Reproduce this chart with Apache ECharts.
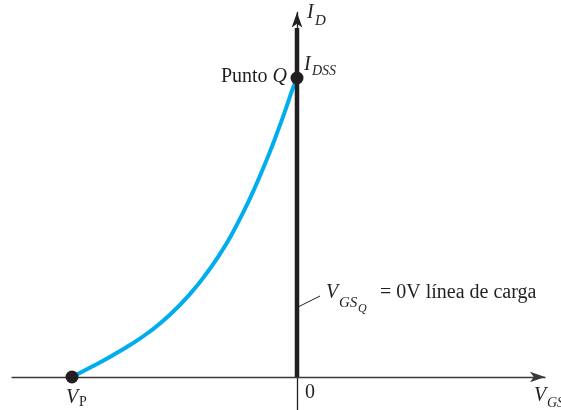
<!DOCTYPE html>
<html><head><meta charset="utf-8">
<script src="https://cdn.jsdelivr.net/npm/echarts@6/dist/echarts.min.js"></script>
<style>html,body{margin:0;padding:0;background:#fff}#c{width:561px;height:410px}</style>
</head><body><div id="c"></div>
<script>
// Transfer curve (VGS in volts, ID in mA; VP = -4 V, IDSS = 10 mA)
const curveVgs = [-4, -3.65, -3.32, -2.97, -2.61, -2.26, -1.90, -1.61, -1.34, -1.18, -0.96, -0.75, -0.54, -0.36, -0.21, -0.09, 0];
const curveId  = [0, 0.34, 0.68, 1.07, 1.53, 2.08, 2.78, 3.46, 4.20, 4.70, 5.49, 6.33, 7.26, 8.13, 8.91, 9.57, 10];
// Load line VGSQ = 0 V
const loadVgs = [0, 0];
const loadId  = [0, 11.67];
// Marked points: VP and Q point (IDSS)
const pointVgs = [-4, 0];
const pointId  = [0, 10];

const ink = '#231f20';
const serif = '"Liberation Serif", "Times New Roman", serif';
const zip = (a, b) => a.map((v, i) => [v, b[i]]);

function txt(x, y, text, size, italic, align) {
  return {
    type: 'text', x: x, y: y, z: 100,
    style: {
      text: text, fill: ink, align: align || 'left', verticalAlign: 'middle',
      font: (italic ? 'italic ' : '') + size + 'px ' + serif
    }
  };
}

const chart = echarts.init(document.getElementById('c'), null, {renderer: 'canvas'});
chart.setOption({
  animation: false,
  backgroundColor: '#fff',
  grid: {left: 12, right: 16, top: 12.5, bottom: 0, containLabel: false, outerBoundsMode: 'none'},
  xAxis: {
    type: 'value', min: -5.0667, max: 4.4089,
    axisLine: {onZero: true, symbol: ['none', 'arrow'], symbolSize: [8, 15],
      lineStyle: {color: '#3a3a3a', width: 1.3}},
    axisTick: {show: false}, axisLabel: {show: false}, splitLine: {show: false}
  },
  yAxis: {
    type: 'value', min: -1.1037, max: 12.19,
    axisLine: {onZero: true, symbol: ['none', 'arrow'], symbolSize: [8, 15],
      lineStyle: {color: ink, width: 1.3}},
    axisTick: {show: false}, axisLabel: {show: false}, splitLine: {show: false}
  },
  series: [
    {
      type: 'line', data: zip(curveVgs, curveId), smooth: 0.5, symbol: 'none',
      lineStyle: {color: '#00aeef', width: 4}, z: 2
    },
    {
      type: 'line', data: zip(loadVgs, loadId), symbol: 'none',
      lineStyle: {color: ink, width: 4.5, cap: 'butt'}, z: 3
    },
    {
      type: 'scatter', data: zip(pointVgs, pointId), symbol: 'circle', symbolSize: 13,
      itemStyle: {color: ink, opacity: 1}, z: 4
    }
  ],
  graphic: [
    {type: 'line', z: 100, shape: {x1: 298, y1: 307, x2: 320, y2: 296},
      style: {stroke: ink, lineWidth: 1}},
    txt(307, 13, 'I', 20, true),
    txt(315, 21, 'D', 15, true),
    {
      type: 'text', x: 287, y: 77, z: 100,
      style: {
        text: '{a|Punto }{b|Q}', fill: ink, align: 'right', verticalAlign: 'middle',
        rich: {
          a: {font: '20px ' + serif, fill: ink},
          b: {font: 'italic 20px ' + serif, fill: ink}
        }
      }
    },
    txt(304, 65, 'I', 20, true),
    txt(312, 71, 'DSS', 14, true),
    txt(326, 293, 'V', 20, true),
    txt(339, 303, 'GS', 15, true),
    txt(358, 309, 'Q', 12, true),
    txt(380, 293, '= 0V línea de carga', 20, false),
    txt(66, 398, 'V', 20, true),
    txt(79, 402, 'P', 14, false),
    txt(305, 393, '0', 20, false),
    txt(534, 396, 'V', 20, true),
    txt(547, 403, 'GS', 14, true)
  ]
});
</script>
</body></html>
